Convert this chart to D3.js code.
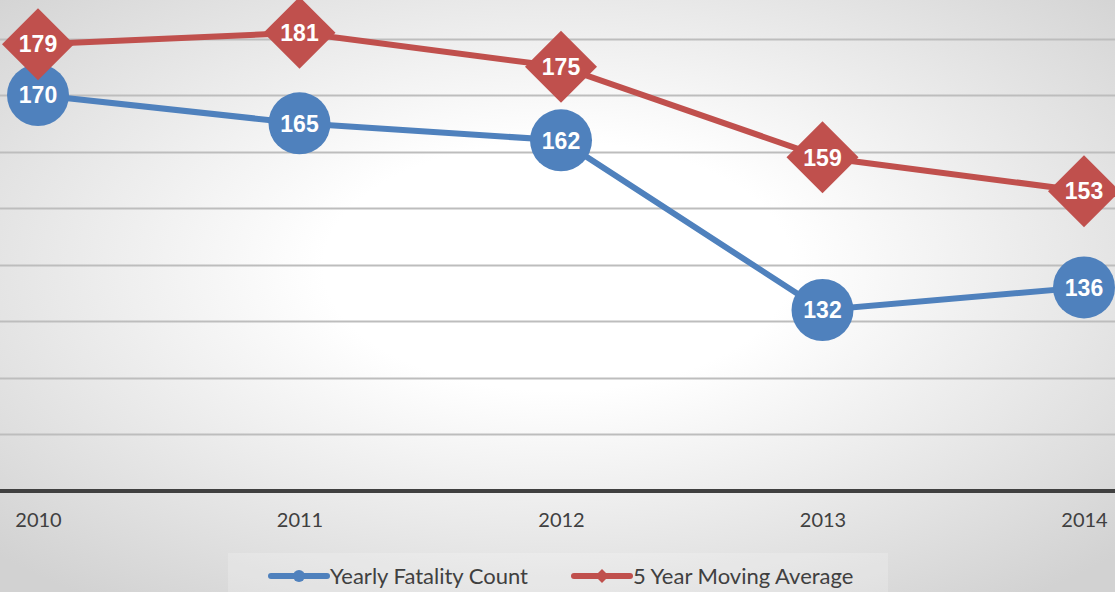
<!DOCTYPE html>
<html>
<head>
<meta charset="utf-8">
<script src="https://cdnjs.cloudflare.com/ajax/libs/d3/7.8.5/d3.min.js"></script>
<style>
  html, body { margin: 0; padding: 0; overflow: hidden; }
  svg { display: block; }
</style>
</head>
<body>
<div id="chart"></div>
<script>
var years = ['2010', '2011', '2012', '2013', '2014'];
var yearlyCount = [170, 165, 162, 132, 136];
var movingAvg = [179, 181, 175, 159, 153];
var gridTicks = [110, 120, 130, 140, 150, 160, 170, 180];
var seriesNames = ['Yearly Fatality Count', '5 Year Moving Average'];

var W = 1115, H = 592;
var blue = '#4f81bd', red = '#c0504d';

var svg = d3.select('#chart').append('svg')
    .attr('width', W).attr('height', H);

var defs = svg.append('defs');
var grad = defs.append('radialGradient').attr('id', 'bg')
    .attr('cx', '50%').attr('cy', '45%').attr('r', '70%');
grad.append('stop').attr('offset', '0%').attr('stop-color', '#ffffff');
grad.append('stop').attr('offset', '30%').attr('stop-color', '#ffffff');
grad.append('stop').attr('offset', '100%').attr('stop-color', '#d2d2d2');

svg.append('rect').attr('width', W).attr('height', H).attr('fill', 'url(#bg)');

var x = d3.scalePoint().domain(years).range([38, 1084]);
var y = d3.scaleLinear().domain([100, 180]).range([491, 38.5]);

// gridlines
svg.append('g').selectAll('line')
    .data(gridTicks)
    .join('line')
    .attr('x1', 0).attr('x2', W)
    .attr('y1', function(d) { return Math.round(y(d)) + 0.5; })
    .attr('y2', function(d) { return Math.round(y(d)) + 0.5; })
    .attr('stroke', '#bdbdbd').attr('stroke-width', 2);

// x axis
var xAxis = svg.append('g')
    .attr('transform', 'translate(0,' + y(100) + ')')
    .call(d3.axisBottom(x).tickSize(0).tickPadding(22));
xAxis.select('.domain').remove();
xAxis.selectAll('text')
    .attr('font-family', 'Lato, "Open Sans", sans-serif')
    .attr('font-size', 20)
    .attr('fill', '#404040');
svg.append('line')
    .attr('x1', 0).attr('x2', W)
    .attr('y1', y(100)).attr('y2', y(100))
    .attr('stroke', '#404040').attr('stroke-width', 4);

var line = d3.line()
    .x(function(d, i) { return x(years[i]); })
    .y(function(d) { return y(d); });

// series lines
svg.append('path').datum(yearlyCount)
    .attr('d', line).attr('fill', 'none')
    .attr('stroke', blue).attr('stroke-width', 6);
svg.append('path').datum(movingAvg)
    .attr('d', line).attr('fill', 'none')
    .attr('stroke', red).attr('stroke-width', 6);

// diamond path with half-diagonal r
function diamondPath(r) {
  return 'M0,' + (-r) + 'L' + r + ',0L0,' + r + 'L' + (-r) + ',0Z';
}

svg.append('g').selectAll('circle')
    .data(yearlyCount)
    .join('circle')
    .attr('cx', function(d, i) { return x(years[i]); })
    .attr('cy', function(d) { return y(d); })
    .attr('r', 31)
    .attr('fill', blue);

svg.append('g').selectAll('path')
    .data(movingAvg)
    .join('path')
    .attr('d', diamondPath(36))
    .attr('transform', function(d, i) { return 'translate(' + x(years[i]) + ',' + y(d) + ')'; })
    .attr('fill', red);

function labels(data) {
  svg.append('g').selectAll('text')
      .data(data)
      .join('text')
      .attr('x', function(d, i) { return x(years[i]); })
      .attr('y', function(d) { return y(d); })
      .attr('dy', '0.36em')
      .attr('text-anchor', 'middle')
      .attr('font-family', '"Liberation Sans", Arial, sans-serif')
      .attr('font-weight', 'bold')
      .attr('font-size', 23)
      .attr('fill', '#ffffff')
      .text(function(d) { return d; });
}
labels(yearlyCount);
labels(movingAvg);

// legend
var legend = svg.append('g');
legend.append('rect')
    .attr('x', 228).attr('y', 553).attr('width', 660).attr('height', 45)
    .attr('fill', '#ffffff').attr('fill-opacity', 0.2);

var legendItems = [
  { name: seriesNames[0], color: blue, x0: 271, shape: 'circle' },
  { name: seriesNames[1], color: red, x0: 574, shape: 'diamond' }
];
var ly = 576;
legendItems.forEach(function(it) {
  legend.append('line')
      .attr('x1', it.x0).attr('x2', it.x0 + 56)
      .attr('y1', ly).attr('y2', ly)
      .attr('stroke', it.color).attr('stroke-width', 6)
      .attr('stroke-linecap', 'round');
  if (it.shape === 'circle') {
    legend.append('circle').attr('cx', it.x0 + 28).attr('cy', ly).attr('r', 6)
        .attr('fill', it.color);
  } else {
    legend.append('path')
        .attr('d', diamondPath(7))
        .attr('transform', 'translate(' + (it.x0 + 28) + ',' + ly + ')')
        .attr('fill', it.color);
  }
  legend.append('text')
      .attr('x', it.x0 + 59).attr('y', ly)
      .attr('dy', '0.35em')
      .attr('font-family', 'Lato, "Open Sans", sans-serif')
      .attr('font-size', 22)
      .attr('fill', '#404040')
      .text(it.name);
});
</script>
</body>
</html>
